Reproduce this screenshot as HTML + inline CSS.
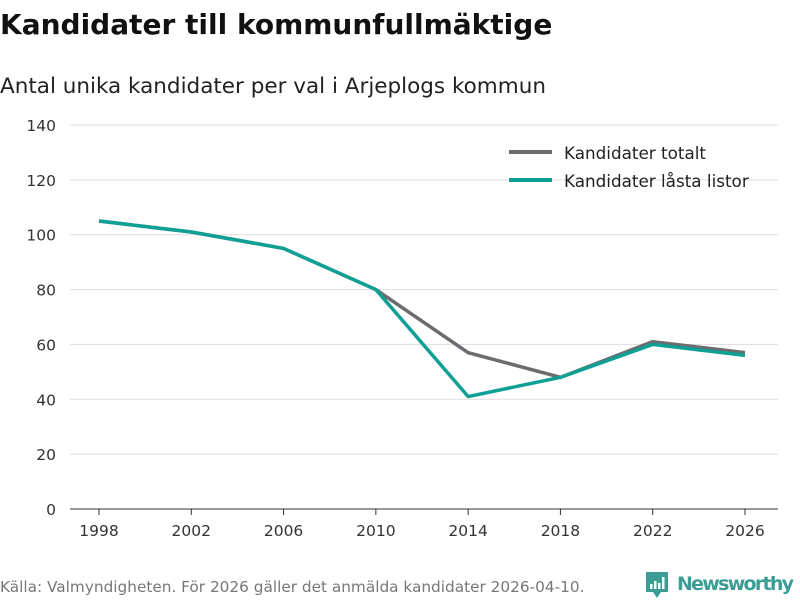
<!DOCTYPE html>
<html><head><meta charset="utf-8"><style>
body{margin:0;width:800px;height:600px;background:#fff;font-family:"DejaVu Sans","Liberation Sans",sans-serif;overflow:hidden}
</style></head><body>
<svg width="800" height="600" xmlns="http://www.w3.org/2000/svg">
<text x="0" y="34" font-size="28" font-weight="bold" fill="#111">Kandidater till kommunfullmäktige</text>
<text x="0" y="93" font-size="21.5" fill="#222">Antal unika kandidater per val i Arjeplogs kommun</text>
<g id="grid"></g>
<g id="xaxis"></g>
<g id="series"></g>
<g>
<g><line x1="509" y1="152" x2="552" y2="152" stroke="#6b6b70" stroke-width="4"/><text x="564" y="159" font-size="16.8" fill="#222">Kandidater totalt</text></g>
<g><line x1="509" y1="180" x2="552" y2="180" stroke="#0fa095" stroke-width="4"/><text x="564" y="187" font-size="16.8" fill="#222">Kandidater låsta listor</text></g>
</g>
<text x="0" y="592" font-size="15.3" fill="#777">Källa: Valmyndigheten. För 2026 gäller det anmälda kandidater 2026-04-10.</text>
<g>
<path d="M646 572 h22 v20 h-7 l-4 6 l-4 -6 h-7 z" fill="#3a9e94"/>
<rect x="650" y="584" width="2.5" height="5" fill="#fff"/><rect x="654" y="581" width="2.5" height="8" fill="#fff"/><rect x="658" y="583" width="2.5" height="6" fill="#fff"/><rect x="662" y="577" width="2.5" height="12" fill="#fff"/>
<text x="677" y="590" font-size="19" font-weight="bold" fill="#3a9e94" textLength="117">Newsworthy</text>
</g>
</svg>
<script>
const years=[1998,2002,2006,2010,2014,2018,2022,2026];
const totalt=[105,101,95,80,57,48,61,57];
const lasta=[105,101,95,80,41,48,60,56];
const yTicks=[0,20,40,60,80,100,120,140];
const NS="http://www.w3.org/2000/svg";
const x=v=>99+(v-1998)*(745-99)/28;
const y=v=>509-v*384/140;
function mk(t,a,p){const e=document.createElementNS(NS,t);for(const k in a)e.setAttribute(k,a[k]);p.appendChild(e);return e;}
const g=document.getElementById('grid');
yTicks.forEach(t=>{
 const l=mk('line',{x1:70,x2:778,y1:y(t),y2:y(t),stroke:t===0?'#333':'#ddd','stroke-width':1},g);
 
 
 const tx=mk('text',{x:56,y:y(t)+6,'font-size':15.5,fill:'#333','text-anchor':'end'},g);tx.textContent=t;
 
 
});
const xa=document.getElementById('xaxis');
years.forEach(yr=>{
 mk('line',{x1:x(yr),x2:x(yr),y1:509,y2:515,stroke:'#333'},xa);
 const tx=mk('text',{x:x(yr),y:536,'font-size':15.5,fill:'#333','text-anchor':'middle'},xa);tx.textContent=yr;
 
 
});
const s=document.getElementById('series');
[[totalt,'#6b6b70','line-totalt'],[lasta,'#0fa095','line-lasta']].forEach(([d,c,n])=>{
 const p=mk('polyline',{points:d.map((v,i)=>x(years[i])+','+y(v)).join(' '),fill:'none',stroke:c,'stroke-width':3.5,'stroke-linejoin':'round'},s);
 
 
});
</script>
</body></html>
